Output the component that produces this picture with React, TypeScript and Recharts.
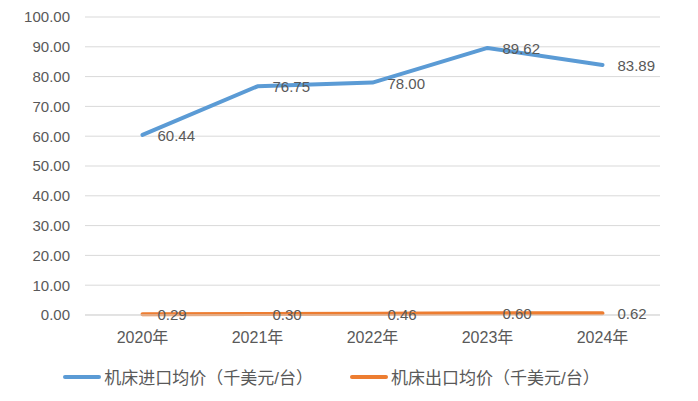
import React from 'react';
import { LineChart, Line, XAxis, YAxis, CartesianGrid, Legend, LabelList } from 'recharts';

const years = ['2020年', '2021年', '2022年', '2023年', '2024年'];
const importPrice = [60.44, 76.75, 78.0, 89.62, 83.89];
const exportPrice = [0.29, 0.3, 0.46, 0.6, 0.62];
const yTicks = [0, 10, 20, 30, 40, 50, 60, 70, 80, 90, 100];

const importName = '机床进口均价（千美元/台）';
const exportName = '机床出口均价（千美元/台）';

const data = years.map((year, i) => ({
  year,
  importPrice: importPrice[i],
  exportPrice: exportPrice[i],
}));

const FONT = '"Liberation Sans", "Noto Sans CJK SC", sans-serif';
const TEXT = '#595959';

function renderLabel(props: any) {
  const { x, y, value } = props;
  return (
    <text x={x + 15} y={y + 6} fill={TEXT} fontSize={15} fontFamily={FONT} textAnchor="start">
      {Number(value).toFixed(2)}
    </text>
  );
}

function renderLegend() {
  const items = [
    { name: importName, color: '#5B9BD5' },
    { name: exportName, color: '#ED7D31' },
  ];
  return (
    <div style={{ display: 'flex', justifyContent: 'center', gap: 37, fontFamily: FONT, fontSize: 17, color: TEXT, paddingLeft: 3 }}>
      {items.map((it) => (
        <div key={it.name} style={{ display: 'flex', alignItems: 'center' }}>
          <span style={{ display: 'inline-block', width: 38, height: 4, borderRadius: 2, background: it.color, marginRight: 3 }} />
          <span>{it.name}</span>
        </div>
      ))}
    </div>
  );
}

export default function App() {
  return (
    <div style={{ position: 'absolute', left: 0, top: 0, width: 698, height: 401, background: '#fff' }}>
      <LineChart width={698} height={401} data={data} margin={{ top: 17, right: 38, left: 0, bottom: 0 }}>
        <CartesianGrid vertical={false} stroke="#D9D9D9" strokeWidth={1} />
        <XAxis
          dataKey="year"
          padding={{ left: 57.5, right: 57.5 }}
          axisLine={{ stroke: '#D9D9D9' }}
          tickLine={false}
          tickSize={0}
          tickMargin={17}
          height={49}
          tick={{ fill: TEXT, fontSize: 16, fontFamily: FONT }}
        />
        <YAxis
          domain={[0, 100]}
          ticks={yTicks}
          width={85}
          axisLine={false}
          tickLine={false}
          tickSize={0}
          tickMargin={15}
          tickFormatter={(v: number) => v.toFixed(2)}
          tick={{ fill: TEXT, fontSize: 15, fontFamily: FONT }}
        />
        <Legend verticalAlign="bottom" height={37} content={renderLegend} />
        <Line
          type="linear"
          dataKey="importPrice"
          name={importName}
          stroke="#5B9BD5"
          strokeWidth={4}
          strokeLinecap="round"
          strokeLinejoin="round"
          dot={false}
          activeDot={false}
          isAnimationActive={false}
        >
          <LabelList dataKey="importPrice" content={renderLabel} />
        </Line>
        <Line
          type="linear"
          dataKey="exportPrice"
          name={exportName}
          stroke="#ED7D31"
          strokeWidth={4}
          strokeLinecap="round"
          strokeLinejoin="round"
          dot={false}
          activeDot={false}
          isAnimationActive={false}
        >
          <LabelList dataKey="exportPrice" content={renderLabel} />
        </Line>
      </LineChart>
    </div>
  );
}
